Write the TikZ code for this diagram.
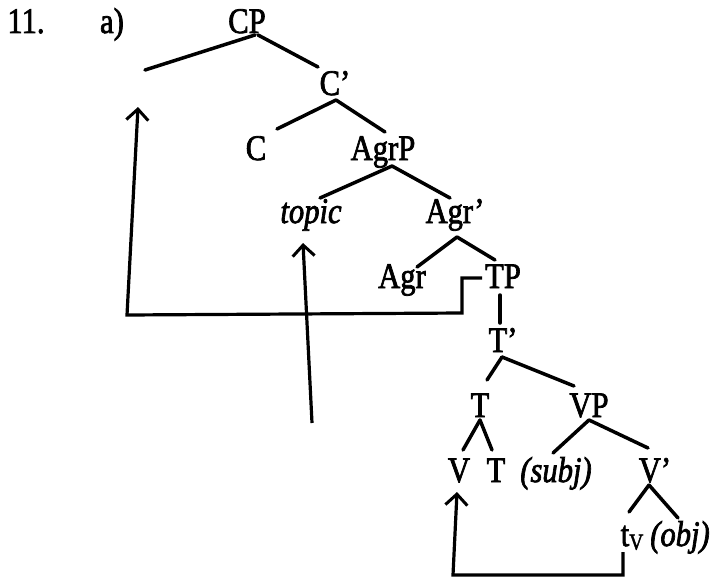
\documentclass[tikz,border=0pt]{standalone}
\usepackage{fontspec}
\setmainfont{Liberation Serif}[FakeBold=2.2]
\usepackage{graphicx}
\usetikzlibrary{arrows.meta,calc}
\newcommand{\stx}[1]{\scalebox{1.02}[1.2]{#1}}
\tikzset{
  lab/.style={anchor=base,inner sep=0pt,font=\fontsize{30}{30}\selectfont},
  br/.style={line width=3.5pt,line cap=round},
  mv/.style={line width=3.2pt,line join=miter,-{Straight Barb[length=11pt,width=22pt,line width=3pt]}}
}
\begin{document}
\begin{tikzpicture}[x=1pt,y=-1pt]
\useasboundingbox (0,0) rectangle (711,578);
% labels
\node[lab] (num) at (26,33) {\stx{11.}};
\node[lab] (lbl) at (112,33) {\stx{a)}};
\node[lab] (cp) at (247,33) {\stx{CP}};
\node[lab] (cbar) at (335,95) {\stx{C’}};
\node[lab] (c) at (256,160) {\stx{C}};
\node[lab] (agrp) at (383,160) {\stx{AgrP}};
\node[lab] (topic) at (311,223) {\stx{\itshape topic}};
\node[lab] (agrbar) at (455,223) {\stx{Agr’}};
\node[lab] (agr) at (402,288) {\stx{Agr}};
\node[lab] (tp) at (503,288) {\stx{TP}};
\node[lab] (tbar) at (503,352) {\stx{T’}};
\node[lab] (t) at (480,417) {\stx{T}};
\node[lab] (vp) at (589,417) {\stx{VP}};
\node[lab] (v) at (459,482) {\stx{V}};
\node[lab] (tt) at (496,482) {\stx{T}};
\node[lab] (subj) at (556,482) {\stx{\itshape (subj)}};
\node[lab] (vbar) at (655,482) {\stx{V’}};
\node[lab] (tv) at (632,546) {\stx{t\raisebox{-3pt}{\fontsize{19}{19}\selectfont V}}};
\node[lab] (obj) at (680,546) {\stx{\itshape (obj)}};
% free ends
\coordinate (spec) at (145,70);
\coordinate (spectip) at (138,107);
\coordinate (bendA) at (462,313);
\coordinate (cornerA) at (127,315);
\coordinate (topicfoot) at (312,423);
\coordinate (vfootR) at (623,575);
\coordinate (vfootL) at (453,575);
% tree branches
\draw[br] ($(cp.base)+(8,2)$) -- (spec);
\draw[br] ($(cp.base)+(11,2)$) -- ($(cbar.base)+(-17,-28)$);
\draw[br] ($(cbar.base)+(1,5)$) -- ($(c.base)+(21,-31)$);
\draw[br] ($(cbar.base)+(1,5)$) -- ($(agrp.base)+(2,-28)$);
\draw[br] ($(agrp.base)+(9,6)$) -- ($(topic.base)+(9,-25)$);
\draw[br] ($(agrp.base)+(9,6)$) -- ($(agrbar.base)+(-5,-25)$);
\draw[br] ($(agrbar.base)+(2,14)$) -- ($(agr.base)+(15,-21)$);
\draw[br] ($(agrbar.base)+(2,14)$) -- ($(tp.base)+(-8,-28)$);
\draw[br] ($(tp.base)+(-3,7)$) -- ($(tbar.base)+(-3,-29)$);
\draw[br] ($(tbar.base)+(-1,5)$) -- ($(t.base)+(7,-37)$);
\draw[br] ($(tbar.base)+(-1,5)$) -- ($(vp.base)+(-15,-31)$);
\draw[br] ($(t.base)+(0,3)$) -- ($(v.base)+(4,-32)$);
\draw[br] ($(t.base)+(0,3)$) -- ($(tt.base)+(-4,-32)$);
\draw[br] ($(vp.base)+(0,3)$) -- ($(subj.base)+(-3,-29)$);
\draw[br] ($(vp.base)+(0,3)$) -- ($(vbar.base)+(-7,-34)$);
\draw[br] ($(vbar.base)+(-6,3)$) -- ($(tv.base)+(-3,-34)$);
\draw[br] ($(vbar.base)+(-6,3)$) -- ($(obj.base)+(-2,-28)$);
% movement arrows
\draw[mv] ($(tp.base)+(-21,-10)$) -| (bendA) -- (cornerA) -- (spectip);
\draw[mv] (topicfoot) -- ($(topic.base)+(-8,20)$);
\draw[mv] ($(tv.base)+(-9,6)$) -- (vfootR) -- (vfootL) -- ($(v.base)+(-2,10)$);
\end{tikzpicture}
\end{document}
